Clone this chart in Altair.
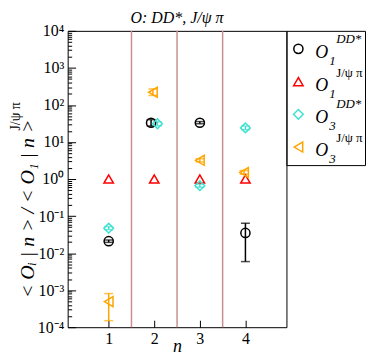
import json
import altair as alt
import pandas as pd

# ---------------- data ----------------
series_keys = ["O1_DD", "O1_Jpsi", "O3_DD", "O3_Jpsi"]
series_colors = ["#000000", "#ff0000", "#40e0d0", "#ffa500"]
series_shapes = ["circle", "triangle-up", "diamond", "triangle-left"]
series_sizes = [85, 100, 64, 85]

o1dd_n = [1, 1.93, 3, 4]
o1dd_val = [0.021, 33, 33, 0.035]
o1dd_lo = [0.0195, 27, 31, 0.0059]
o1dd_hi = [0.0226, 40, 35.5, 0.064]

o1jpsi_n = [1, 2, 3, 4]
o1jpsi_val = [1.0, 1.0, 1.0, 1.0]

o3dd_n = [1, 2.07, 3, 4]
o3dd_val = [0.047, 31, 0.66, 24]
o3dd_lo = [0.043, 27.5, 0.6, 21.5]
o3dd_hi = [0.052, 35, 0.73, 27]

o3jpsi_n = [1, 1.97, 3, 3.97]
o3jpsi_val = [0.00049, 220, 3.2, 1.5]
o3jpsi_lo = [0.00015, 180, 2.9, 1.35]
o3jpsi_hi = [0.00081, 270, 3.55, 1.7]

separators = [1.5, 2.5, 3.5]
x_ticks = [1, 2, 3, 4]
y_decades = [1e-4, 1e-3, 1e-2, 1e-1, 1e0, 1e1, 1e2, 1e3, 1e4]
y_tick_labels = ["10⁻⁴", "10⁻³", "10⁻²", "10⁻¹", "10⁰", "10¹", "10²", "10³", "10⁴"]
y_minor = [m * d for d in y_decades[:-1] for m in range(2, 10)]

chart_title = "O: DD*, J/ψ π"
y_title_main = "<  Oᵢ  |  n  >  /  <  O₁  |  n  >"
y_title_sup = "J/ψ π"
x_title = "n"
legend_sub = ["1", "1", "3", "3"]
legend_sup_it = ["DD*", "", "DD*", ""]
legend_sup_up = ["", "J/ψ π", "", "J/ψ π"]

# ---------------- tables ----------------
pts = pd.DataFrame(
    [{"series": "O1_DD", "n": a, "val": b} for a, b in zip(o1dd_n, o1dd_val)]
    + [{"series": "O1_Jpsi", "n": a, "val": b} for a, b in zip(o1jpsi_n, o1jpsi_val)]
    + [{"series": "O3_DD", "n": a, "val": b} for a, b in zip(o3dd_n, o3dd_val)]
    + [{"series": "O3_Jpsi", "n": a, "val": b} for a, b in zip(o3jpsi_n, o3jpsi_val)]
)
errs = pd.DataFrame(
    [{"series": "O1_DD", "n": a, "lo": l, "hi": h} for a, l, h in zip(o1dd_n, o1dd_lo, o1dd_hi)]
    + [{"series": "O3_DD", "n": a, "lo": l, "hi": h} for a, l, h in zip(o3dd_n, o3dd_lo, o3dd_hi)]
    + [{"series": "O3_Jpsi", "n": a, "lo": l, "hi": h} for a, l, h in zip(o3jpsi_n, o3jpsi_lo, o3jpsi_hi)]
)
seps = pd.DataFrame({"x": separators})
leg = pd.DataFrame({
    "series": series_keys, "row": list(range(len(series_keys))),
    "sub": legend_sub, "sup_it": legend_sup_it, "sup_up": legend_sup_up,
})

PW, PH = 220, 298
SERIF = "Liberation Serif"
xs = alt.Scale(domain=[0.1, 4.9], nice=False, zero=False)
ys = alt.Scale(type="log", domain=[1e-4, 1e4], nice=False)
color_enc = alt.Color("series:N", scale=alt.Scale(domain=series_keys, range=series_colors), legend=None)
shape_enc = alt.Shape("series:N", scale=alt.Scale(domain=series_keys, range=series_shapes), legend=None)
size_enc = alt.Size("series:N", scale=alt.Scale(domain=series_keys, range=series_sizes), legend=None)

label_expr = json.dumps(y_tick_labels, ensure_ascii=False) + "[round(log(datum.value)/LN10)+4]"

x_label_axis = alt.Axis(orient="bottom", values=x_ticks, format="d", ticks=False, tickSize=0,
                        domain=False, grid=False, labelFont=SERIF, labelFontSize=16,
                        labelColor="black", labelPadding=3, title=x_title, titleFont=SERIF,
                        titleFontSize=18, titleFontStyle="italic", titleFontWeight="normal",
                        titleColor="black", titleY=24, titleBaseline="alphabetic")
x_tick_axis = alt.Axis(orient="bottom", values=x_ticks, offset=-7, tickSize=7, labels=False,
                       domain=False, grid=False, title=None, tickColor="black")
y_label_axis = alt.Axis(orient="left", values=y_decades, labelExpr=label_expr, ticks=False,
                        tickSize=0, domain=False, grid=False, labelFont=SERIF, labelFontSize=16,
                        labelColor="black", labelPadding=4, title=None)
y_major_axis = alt.Axis(orient="left", values=y_decades, offset=-8, tickSize=8, labels=False,
                        domain=False, grid=False, title=None, tickColor="black")
y_minor_axis = alt.Axis(orient="left", values=y_minor, offset=-4, tickSize=4, labels=False,
                        domain=False, grid=False, title=None, tickColor="black")

sep_layer = alt.Chart(seps).mark_rule(color="#c89090", strokeWidth=1.5).encode(
    x=alt.X("x:Q", scale=xs, axis=x_label_axis))

err_layer = alt.Chart(errs).mark_rule(strokeWidth=1.5).encode(
    x=alt.X("n:Q", scale=xs, axis=x_tick_axis),
    y=alt.Y("lo:Q", scale=ys, axis=y_label_axis),
    y2="hi:Q",
    color=color_enc)

cap_lo = alt.Chart(errs).mark_tick(orient="horizontal", size=9, thickness=1.5).encode(
    x=alt.X("n:Q", scale=xs, axis=None),
    y=alt.Y("lo:Q", scale=ys, axis=y_major_axis),
    color=color_enc)
cap_hi = alt.Chart(errs).mark_tick(orient="horizontal", size=9, thickness=1.5).encode(
    x=alt.X("n:Q", scale=xs, axis=None),
    y=alt.Y("hi:Q", scale=ys, axis=None),
    color=color_enc)

pt_layer = alt.Chart(pts).mark_point(filled=False, strokeWidth=1.5, opacity=1).encode(
    x=alt.X("n:Q", scale=xs, axis=None),
    y=alt.Y("val:Q", scale=ys, axis=y_minor_axis),
    color=color_enc, shape=shape_enc, size=size_enc)

title_layer = alt.Chart(pd.DataFrame({"t": [chart_title]})).mark_text(
    font=SERIF, fontSize=16, fontStyle="italic", align="center", baseline="alphabetic",
    color="black").encode(text="t:N", x=alt.value(PW / 2), y=alt.value(-8))
ytitle_main = alt.Chart(pd.DataFrame({"t": [y_title_main]})).mark_text(
    angle=270, font=SERIF, fontSize=20, fontStyle="italic", align="center", baseline="middle",
    color="black").encode(text="t:N", x=alt.value(-40), y=alt.value(179))
ytitle_sup = alt.Chart(pd.DataFrame({"t": [y_title_sup]})).mark_text(
    angle=270, font=SERIF, fontSize=14, align="center", baseline="middle",
    color="black").encode(text="t:N", x=alt.value(-52), y=alt.value(86))

main = alt.layer(sep_layer, err_layer, cap_lo, cap_hi, pt_layer,
                 title_layer, ytitle_main, ytitle_sup).resolve_axis(
    x="independent", y="independent").properties(width=PW, height=PH)

# ---------------- legend panel ----------------
ly = alt.Y("row:O", axis=None, scale=alt.Scale(type="point", padding=0.55))
leg_sym = alt.Chart(leg).mark_point(filled=False, strokeWidth=1.5, opacity=1).encode(
    x=alt.value(12), y=ly, color=color_enc, shape=shape_enc, size=size_enc)
leg_O = alt.Chart(leg).mark_text(text="O", font=SERIF, fontSize=18, fontStyle="italic",
                                 align="left", baseline="alphabetic", dy=9, color="black").encode(
    x=alt.value(29), y=ly)
leg_sub = alt.Chart(leg).mark_text(font=SERIF, fontSize=13, fontStyle="italic", align="left",
                                   baseline="alphabetic", dy=16, color="black").encode(
    x=alt.value(43), y=ly, text="sub:N")
leg_sup1 = alt.Chart(leg).mark_text(font=SERIF, fontSize=13, fontStyle="italic", align="left",
                                    baseline="alphabetic", dy=-6, color="black").encode(
    x=alt.value(50), y=ly, text="sup_it:N")
leg_sup2 = alt.Chart(leg).mark_text(font=SERIF, fontSize=13, align="left",
                                    baseline="alphabetic", dy=-5, color="black").encode(
    x=alt.value(50), y=ly, text="sup_up:N")
legend_panel = alt.layer(leg_sym, leg_O, leg_sub, leg_sup1, leg_sup2).properties(width=79, height=135)

chart = alt.hconcat(main, legend_panel, spacing=0, bounds="flush").properties(
    padding={"left": 0, "top": 0, "right": 0, "bottom": 0}
).configure_view(stroke="black", strokeWidth=1)

chart.save("out.html", embed_options={"renderer": "svg", "actions": False})
